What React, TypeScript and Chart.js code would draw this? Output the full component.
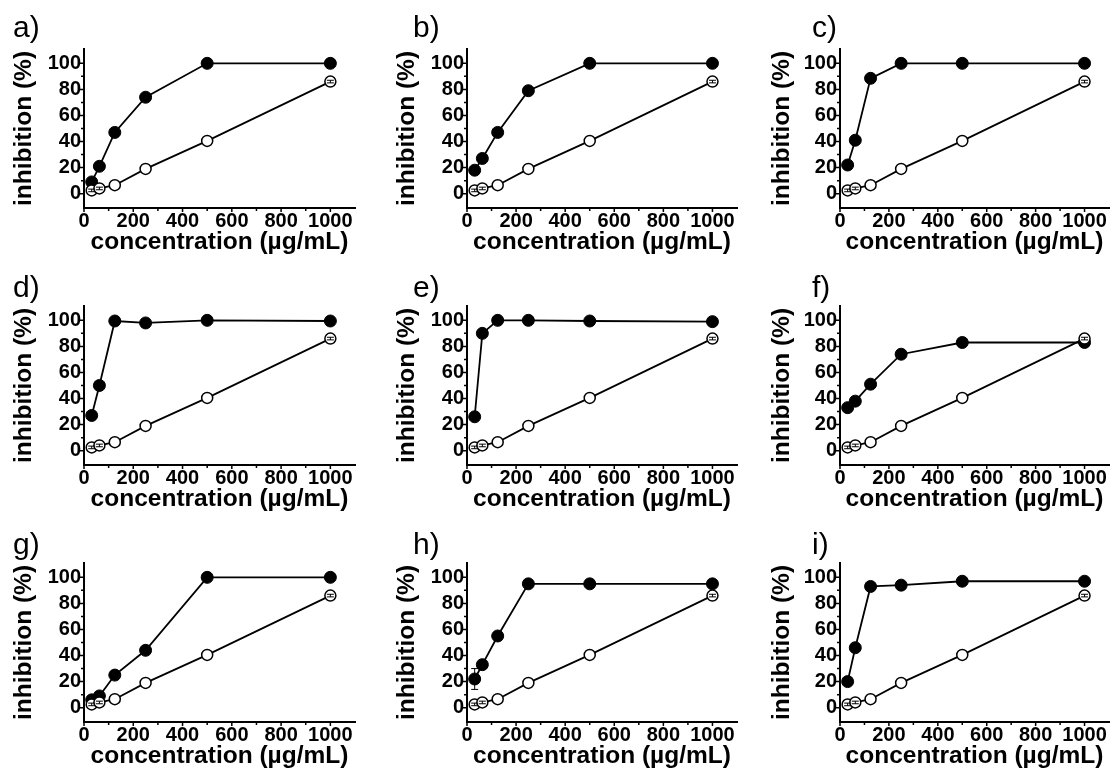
import React, { useEffect, useRef } from "react";
import { Chart, registerables } from "chart.js";

Chart.register(...registerables);

// ---- data ----
const concentrations = [31.25, 62.5, 125, 250, 500, 1000];
const control = [2.5, 4, 6.5, 19, 40.5, 86];
const controlError = [1, 1, 0, 0, 0, 1];
const panelA = [9, 21, 47, 74, 100, 100];
const panelB = [18, 27, 47, 79, 100, 100];
const panelC = [22, 41, 88.5, 100, 100, 100];
const panelD = [27, 50, 99.5, 98, 100, 99.5];
const panelE = [26, 90, 100, 100, 99.5, 99];
const panelF = [33, 38, 51, 74, 83, 83];
const panelG = [6, 9, 25, 44, 100, 100];
const panelH = [22, 33, 55, 95, 95, 95];
const panelI = [20, 46, 93, 94, 97, 97];
const panelHError = [8, 0, 0, 0, 0, 0];
const noError = [0, 0, 0, 0, 0, 0];
const panelLetters = ["a)", "b)", "c)", "d)", "e)", "f)", "g)", "h)", "i)"];
const panelSeries = [panelA, panelB, panelC, panelD, panelE, panelF, panelG, panelH, panelI];
const panelErrors = [noError, noError, noError, noError, noError, noError, noError, panelHError, noError];
const xTickValues = [0, 200, 400, 600, 800, 1000];
const xMinorValues = [100, 300, 500, 700, 900];
const yTickValues = [0, 20, 40, 60, 80, 100];
const yMinorValues = [10, 30, 50, 70, 90];
const xAxisTitle = "concentration (µg/mL)";
const yAxisTitle = "inhibition (%)";

// ---- layout ----
const colLeft = [0, 372, 744];
const colAreaLeft = [84, 95, 96];
const colAreaRight = [355, 366, 369];
const colYTitlePad = [10, 21, 24];
const colLetterX = [13, 41, 68];
const rowTop = [0, 257, 514];
const rowLetterY = [37, 40, 40];
const PANEL_W = 372;
const PANEL_H = 257;
const AREA_TOP = 49;
const AREA_BOTTOM = 208;

const FONT = "'Liberation Sans', Arial, Helvetica, sans-serif";

const errorBarPlugin = {
  id: "errorBars",
  afterDatasetsDraw(chart: any, _args: any, opts: any) {
    const { ctx, scales } = chart;
    const xs = scales.x;
    const ys = scales.y;
    ctx.save();
    ctx.strokeStyle = "#000";
    ctx.lineWidth = 1;
    ctx.beginPath();
    (opts.sets || []).forEach((set: any) => {
      concentrations.forEach((c, i) => {
        const err = set.err[i];
        if (!err) return;
        const px = xs.getPixelForValue(c);
        const top = ys.getPixelForValue(set.values[i] + err);
        const bot = ys.getPixelForValue(set.values[i] - err);
        ctx.moveTo(px, top);
        ctx.lineTo(px, bot);
        ctx.moveTo(px - 3.5, top);
        ctx.lineTo(px + 3.5, top);
        ctx.moveTo(px - 3.5, bot);
        ctx.lineTo(px + 3.5, bot);
      });
    });
    ctx.stroke();
    ctx.restore();
  },
};

const decorPlugin = {
  id: "panelDecor",
  afterDraw(chart: any, _args: any, opts: any) {
    const { ctx, chartArea, scales } = chart;
    const xs = scales.x;
    const ys = scales.y;
    ctx.save();
    ctx.strokeStyle = "#000";
    ctx.lineWidth = 1.5;
    ctx.beginPath();
    for (const v of xTickValues) {
      const p = xs.getPixelForValue(v);
      ctx.moveTo(p, chartArea.bottom);
      ctx.lineTo(p, chartArea.bottom + 4);
    }
    for (const v of xMinorValues) {
      const p = xs.getPixelForValue(v);
      ctx.moveTo(p, chartArea.bottom);
      ctx.lineTo(p, chartArea.bottom + 3);
    }
    for (const v of yTickValues) {
      const p = ys.getPixelForValue(v);
      ctx.moveTo(chartArea.left, p);
      ctx.lineTo(chartArea.left - 4, p);
    }
    for (const v of yMinorValues) {
      const p = ys.getPixelForValue(v);
      ctx.moveTo(chartArea.left, p);
      ctx.lineTo(chartArea.left - 3, p);
    }
    ctx.stroke();
    ctx.fillStyle = "#000";
    ctx.font = "30px 'Liberation Sans', Arial, sans-serif";
    ctx.textAlign = "left";
    ctx.textBaseline = "alphabetic";
    ctx.fillText(opts.letter, opts.x, opts.y);
    ctx.restore();
  },
};

type PanelProps = { index: number };

function Panel({ index }: PanelProps) {
  const ref = useRef<HTMLCanvasElement>(null);
  const col = index % 3;
  const row = Math.floor(index / 3);
  const areaLeft = colAreaLeft[col];
  const areaRight = colAreaRight[col];

  useEffect(() => {
    const values = panelSeries[index];
    const chart = new Chart(ref.current as HTMLCanvasElement, {
      type: "line",
      data: {
        datasets: [
          {
            label: "control",
            data: concentrations.map((x, i) => ({ x, y: control[i] })),
            borderColor: "#000",
            borderWidth: 1.8,
            backgroundColor: "#fff",
            pointRadius: 5.5,
            pointBorderWidth: 1.5,
            pointBackgroundColor: "#fff",
            pointBorderColor: "#000",
            tension: 0,
          },
          {
            label: "sample",
            data: concentrations.map((x, i) => ({ x, y: values[i] })),
            borderColor: "#000",
            borderWidth: 1.8,
            backgroundColor: "#000",
            pointRadius: 6,
            pointBorderWidth: 1,
            pointBackgroundColor: "#000",
            pointBorderColor: "#000",
            tension: 0,
          },
        ],
      },
      options: {
        responsive: false,
        animation: false,
        events: [],
        layout: {
          padding: { left: 0, right: PANEL_W - areaRight, top: AREA_TOP, bottom: 0 },
        },
        plugins: {
          legend: { display: false },
          tooltip: { enabled: false },
          panelDecor: { letter: panelLetters[index], x: colLetterX[col], y: rowLetterY[row] },
          errorBars: {
            sets: [
              { values: control, err: controlError },
              { values, err: panelErrors[index] },
            ],
          },
        } as any,
        scales: {
          x: {
            type: "linear",
            min: 0,
            max: 1100,
            afterBuildTicks: (s: any) => {
              s.ticks = xTickValues.map((v) => ({ value: v }));
            },
            afterFit: (s: any) => {
              s.height = PANEL_H - AREA_BOTTOM;
            },
            ticks: {
              color: "#000",
              padding: 1,
              maxRotation: 0,
              autoSkip: false,
              font: { family: FONT, size: 20, weight: "bold" },
              callback: (v: any) => String(v),
            },
            grid: { display: true, drawOnChartArea: false, drawTicks: false },
            border: { display: true, color: "#000", width: 2 },
            title: {
              display: true,
              text: xAxisTitle,
              color: "#000",
              font: { family: FONT, size: 24.5, weight: "bold" },
              padding: { top: 0, bottom: 0 },
            },
          },
          y: {
            type: "linear",
            min: -11,
            max: 111,
            afterBuildTicks: (s: any) => {
              s.ticks = yTickValues.map((v) => ({ value: v }));
            },
            afterFit: (s: any) => {
              s.width = areaLeft;
            },
            ticks: {
              color: "#000",
              padding: 3,
              autoSkip: false,
              font: { family: FONT, size: 20, weight: "bold" },
              callback: (v: any) => String(v),
            },
            grid: { display: true, drawOnChartArea: false, drawTicks: false },
            border: { display: true, color: "#000", width: 2 },
            title: {
              display: true,
              text: yAxisTitle,
              color: "#000",
              font: { family: FONT, size: 24.5, weight: "bold" },
              padding: { top: colYTitlePad[col], bottom: 0 },
            },
          },
        },
      } as any,
      plugins: [errorBarPlugin as any, decorPlugin as any],
    });
    return () => chart.destroy();
  }, [index]);

  return (
    <canvas
      ref={ref}
      width={PANEL_W}
      height={PANEL_H}
      style={{
        position: "absolute",
        left: colLeft[col],
        top: rowTop[row],
        width: PANEL_W,
        height: PANEL_H,
      }}
    />
  );
}

export default function App() {
  return (
    <div
      style={{
        position: "absolute",
        left: 0,
        top: 0,
        width: 1115,
        height: 778,
        background: "#fff",
        overflow: "hidden",
      }}
    >
      {panelLetters.map((_, i) => (
        <Panel key={i} index={i} />
      ))}
    </div>
  );
}
